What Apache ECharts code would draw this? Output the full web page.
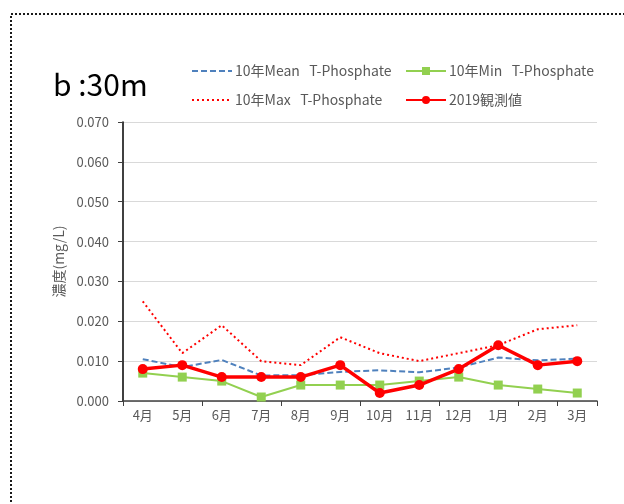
<!DOCTYPE html>
<html>
<head>
<meta charset="utf-8">
<script src="https://cdn.jsdelivr.net/npm/echarts@6/dist/echarts.min.js"></script>
<style>
  html, body { margin: 0; padding: 0; background: #fff; }
  #main { width: 624px; height: 504px; }
</style>
</head>
<body>
<div id="main"></div>
<script>
var months = ['4月', '5月', '6月', '7月', '8月', '9月', '10月', '11月', '12月', '1月', '2月', '3月'];
var meanVals = [0.0105, 0.0085, 0.0103, 0.0064, 0.0065, 0.0073, 0.0077, 0.0072, 0.0084, 0.0109, 0.0102, 0.0106];
var minVals = [0.007, 0.006, 0.005, 0.001, 0.004, 0.004, 0.004, 0.005, 0.006, 0.004, 0.003, 0.002];
var maxVals = [0.025, 0.012, 0.019, 0.010, 0.009, 0.016, 0.012, 0.010, 0.012, 0.014, 0.018, 0.019];
var obs2019 = [0.008, 0.009, 0.006, 0.006, 0.006, 0.009, 0.002, 0.004, 0.008, 0.014, 0.009, 0.010];
var yTicks = { min: 0, max: 0.07, step: 0.01 };

var font = '"Noto Sans CJK JP", "Noto Sans", sans-serif';
var chart = echarts.init(document.getElementById('main'));

// 凡例の共通設定 (noMarker: 線のみ)
function legendAt(name, left, top, noMarker) {
    var lg = {
        data: [name],
        left: left,
        top: top,
        itemWidth: 40,
        itemHeight: 10,
        itemGap: 0,
        textStyle: { color: '#595959', fontSize: 14, fontFamily: font, padding: [0, 0, 0, -2] },
        selectedMode: false
    };
    if (noMarker) {
        lg.itemStyle = { opacity: 0 };
    }
    return lg;
}

var option = {
    animation: false,
    backgroundColor: '#fff',
    graphic: [
        {
            // 点線の枠
            type: 'rect',
            shape: { x: 11, y: 14, width: 800, height: 700 },
            style: { fill: 'none', stroke: '#1a1a1a', lineWidth: 2, lineDash: [2, 2] },
            silent: true
        },
        {
            type: 'text',
            left: 53,
            top: 70,
            style: { text: 'b :30m', fontSize: 30, fill: '#000', fontFamily: font }
        }
    ],
    legend: [
        legendAt('10年Mean   T-Phosphate', 186, 59, true),
        legendAt('10年Min   T-Phosphate', 400, 59, false),
        legendAt('10年Max   T-Phosphate', 186, 88, true),
        legendAt('2019観測値', 400, 88, false)
    ],
    grid: { left: 123, right: 27, top: 122, bottom: 103 },
    xAxis: {
        type: 'category',
        data: months,
        boundaryGap: true,
        axisLine: { lineStyle: { color: '#404040', width: 1.5 } },
        axisTick: { show: true, interval: 1, length: 5, lineStyle: { color: '#404040' } },
        axisLabel: { color: '#595959', fontSize: 13, fontFamily: font, margin: 8, interval: 0 }
    },
    yAxis: {
        type: 'value',
        min: yTicks.min,
        max: yTicks.max,
        interval: yTicks.step,
        name: '濃度(mg/L)',
        nameLocation: 'middle',
        nameGap: 57,
        nameTextStyle: { color: '#595959', fontSize: 14, fontFamily: font },
        axisLine: { show: true, lineStyle: { color: '#000', width: 1.5 } },
        axisTick: { show: true, length: 5, lineStyle: { color: '#404040' } },
        splitLine: { lineStyle: { color: '#d9d9d9', width: 1 } },
        axisLabel: {
            color: '#595959', fontSize: 13, fontFamily: font, margin: 14,
            formatter: function (v) { return v.toFixed(3); }
        }
    },
    series: [
        {
            name: '10年Mean   T-Phosphate',
            type: 'line',
            data: meanVals,
            symbol: 'none',
            color: '#4f81bd',
            lineStyle: { width: 2, type: [6, 3] },
            z: 2
        },
        {
            name: '10年Min   T-Phosphate',
            type: 'line',
            data: minVals,
            symbol: 'rect',
            symbolSize: 9,
            color: '#92d050',
            lineStyle: { width: 2 },
            z: 3
        },
        {
            name: '10年Max   T-Phosphate',
            type: 'line',
            data: maxVals,
            symbol: 'none',
            color: '#ff0000',
            lineStyle: { width: 2, type: [2, 3] },
            z: 2
        },
        {
            name: '2019観測値',
            type: 'line',
            data: obs2019,
            symbol: 'circle',
            symbolSize: 10,
            color: '#ff0000',
            lineStyle: { width: 3.5 },
            z: 4
        }
    ]
};

chart.setOption(option);
</script>
</body>
</html>
